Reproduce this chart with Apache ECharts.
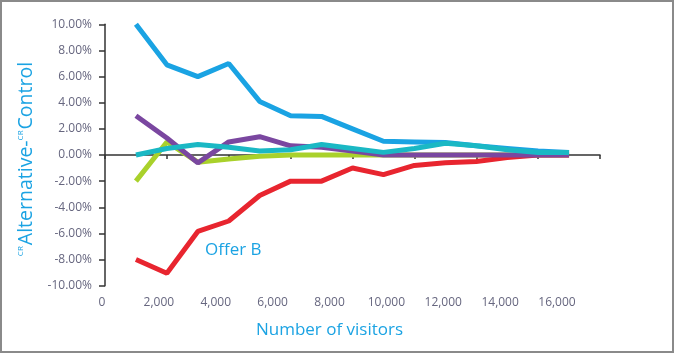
<!DOCTYPE html>
<html>
<head>
<meta charset="utf-8">
<script src="https://cdn.jsdelivr.net/npm/echarts@6/dist/echarts.min.js"></script>
<style>
  html, body { margin: 0; padding: 0; background: #fff; }
  #chart { position: absolute; left: 0; top: 0; width: 674px; height: 353px; }
  #frame { position: absolute; left: 0; top: 0; width: 670px; height: 349px; border: 2px solid #8a8a8a; pointer-events: none; }
</style>
</head>
<body>
<div id="chart"></div>
<div id="frame"></div>
<script>
// visitors at each measurement
var visitors = [1000, 2000, 3000, 4000, 5000, 6000, 7000, 8000, 9000, 10000, 11000, 12000, 13000, 14000, 15000];
// CR difference (%) per alternative
var offerA = [10.0, 6.9, 6.0, 7.0, 4.1, 3.0, 2.95, 2.0, 1.05, 1.0, 0.95, 0.7, 0.5, 0.3, 0.2];
var offerB = [-8.0, -9.05, -5.85, -5.05, -3.1, -2.0, -2.0, -1.0, -1.5, -0.8, -0.6, -0.5, -0.2, 0.0, 0.0];
var offerC = [3.0, 1.3, -0.6, 1.0, 1.4, 0.7, 0.6, 0.3, 0.0, 0.0, 0.0, 0.0, 0.0, 0.0, 0.0];
var offerD = [-2.0, 1.0, -0.55, -0.3, -0.1, 0.0, 0.0, 0.0, 0.0, 0.0, 0.0, 0.0, 0.0, 0.0, 0.0];
var offerE = [0.0, 0.5, 0.8, 0.6, 0.3, 0.4, 0.8, 0.5, 0.2, 0.5, 0.9, 0.7, 0.4, 0.2, 0.2];

var xLabels = ['0', '2,000', '4,000', '6,000', '8,000', '10,000', '12,000', '14,000', '16,000'];

function pairs(vals) {
    return visitors.map(function (v, i) { return [v, vals[i]]; });
}

function line(name, vals, color) {
    return {
        name: name,
        type: 'line',
        xAxisIndex: 0,
        yAxisIndex: 0,
        data: pairs(vals),
        symbol: 'none',
        lineStyle: { color: color, width: 5 },
        silent: true
    };
}

var labelColor = '#66667f';
var blue = '#1ba3e3';

var option = {
    animation: false,
    backgroundColor: '#fff',
    textStyle: { fontFamily: 'Open Sans' },
    grid: [
        { left: 105, right: 74, top: 24.3, bottom: 67.3 },
        // grid only used for the (misaligned) category labels under the chart
        { left: 102, right: 117, top: 290, height: 1 }
    ],
    xAxis: [
        {
            type: 'value', gridIndex: 0, min: 0, max: 16000, interval: 2000,
            axisLine: { show: true, onZero: true, lineStyle: { color: '#333', width: 1.5 } },
            axisTick: { show: true, length: 4, lineStyle: { color: '#333', width: 1.5 } },
            axisLabel: { show: false },
            splitLine: { show: false }
        },
        {
            type: 'value', gridIndex: 1, min: 0, max: 16000, interval: 2000,
            axisLine: { show: false },
            axisTick: { show: false },
            splitLine: { show: false },
            axisLabel: {
                margin: 6, fontSize: 12, color: labelColor,
                formatter: function (v) { return xLabels[v / 2000]; }
            },
            name: 'Number of visitors',
            nameLocation: 'middle',
            nameGap: 31,
            nameTextStyle: { color: blue, fontSize: 17 }
        }
    ],
    yAxis: [
        {
            type: 'value', gridIndex: 0, min: -10, max: 10, interval: 2,
            axisLine: { show: true, onZero: false, lineStyle: { color: '#333', width: 1.5 } },
            axisTick: { show: true, length: 6, lineStyle: { color: '#333', width: 1.5 } },
            splitLine: { show: false },
            axisLabel: {
                margin: 13, fontSize: 12, color: labelColor,
                formatter: function (v) { return v.toFixed(2) + '%'; }
            },
            name: '{s|CR}Alternative-{s|CR}Control',
            nameLocation: 'middle',
            nameGap: 60,
            nameRotate: 90,
            nameTextStyle: {
                color: blue, fontSize: 19.5,
                padding: [0, 8, 0, 0],
                rich: {
                    s: { fontSize: 8, color: blue, verticalAlign: 'top', padding: [0, 1, 10, 0] }
                }
            }
        },
        { type: 'value', gridIndex: 1, show: false, min: 0, max: 1 }
    ],
    graphic: [
        {
            type: 'text', left: 205, top: 242,
            style: { text: 'Offer B', fill: blue, fontSize: 17, fontFamily: 'Open Sans' }
        }
    ],
    series: [
        line('Offer D', offerD, '#a9d12b'),
        line('Offer B', offerB, '#e8252f'),
        line('Offer C', offerC, '#7a47a0'),
        line('Offer A', offerA, '#1aa3e3'),
        line('Offer E', offerE, '#1ab8c4')
    ]
};

var chart = echarts.init(document.getElementById('chart'));
chart.setOption(option);
</script>
</body>
</html>
